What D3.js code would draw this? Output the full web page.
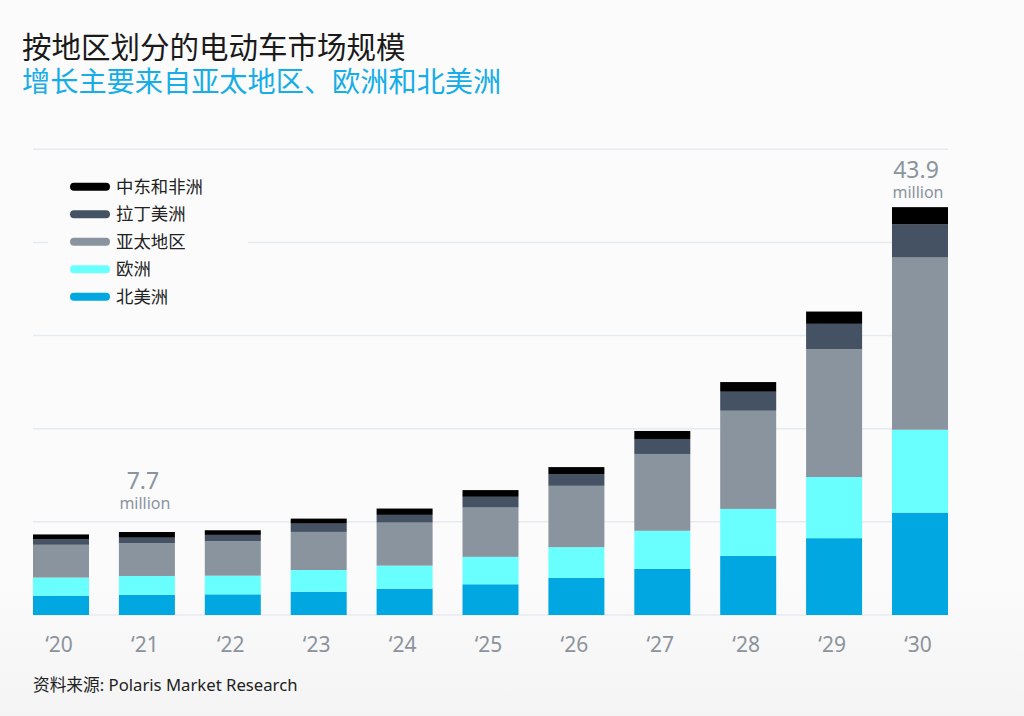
<!DOCTYPE html>
<html>
<head>
<meta charset="utf-8">
<script src="https://cdn.jsdelivr.net/npm/d3@7"></script>
<style>
  html, body { margin: 0; padding: 0; background: #fbfbfc; }
  text { font-family: "Noto Sans", "Noto Sans CJK SC", sans-serif; }
</style>
</head>
<body>
<div id="chart"></div>
<script>
const width = 1024;
const height = 716;

// data (million units)
const years = ["20", "21", "22", "23", "24", "25", "26", "27", "28", "29", "30"];
const northAmerica     = [2.08, 2.18, 2.22, 2.50, 2.83, 3.30, 3.98, 4.95, 6.34, 8.25, 11.00];
const europe           = [1.94, 2.01, 2.00, 2.33, 2.47, 2.94, 3.30, 4.09, 5.05, 6.56, 8.89];
const asiaPacific      = [3.52, 3.51, 3.70, 4.09, 4.62, 5.30, 6.59, 8.25, 10.54, 13.72, 18.49];
const latinAmerica     = [0.61, 0.60, 0.68, 0.89, 0.83, 1.15, 1.26, 1.61, 2.04, 2.73, 3.55];
const middleEastAfrica = [0.50, 0.61, 0.50, 0.54, 0.68, 0.72, 0.75, 0.86, 1.04, 1.32, 1.86];
const seriesNames = ["北美洲", "欧洲", "亚太地区", "拉丁美洲", "中东和非洲"];
const yTicks = [0, 10, 20, 30, 40, 50];
const callouts = [{ year: "21", value: "7.7" }, { year: "30", value: "43.9" }];

const colors = ["#00a7e1", "#6affff", "#8a949e", "#455263", "#000000"];

const table = years.map((y, i) => ({
    year: y,
    "北美洲": northAmerica[i],
    "欧洲": europe[i],
    "亚太地区": asiaPacific[i],
    "拉丁美洲": latinAmerica[i],
    "中东和非洲": middleEastAfrica[i]
}));

const svg = d3.select("#chart").append("svg")
    .attr("width", width)
    .attr("height", height);

// faint grey fade at the bottom
const defs = svg.append("defs");
const grad = defs.append("linearGradient")
    .attr("id", "bgFade").attr("x1", 0).attr("y1", 0).attr("x2", 0).attr("y2", 1);
grad.append("stop").attr("offset", "0%").attr("stop-color", "#fbfbfc");
grad.append("stop").attr("offset", "100%").attr("stop-color", "#f4f4f5");
svg.append("rect").attr("width", width).attr("height", height).attr("fill", "#fbfbfc");
svg.append("rect").attr("y", 575).attr("width", width).attr("height", height - 575)
    .attr("fill", "url(#bgFade)");

// titles
svg.append("text").attr("x", 22).attr("y", 58)
    .attr("font-size", 29.5).attr("fill", "#1a1a1a")
    .style("font-family", "'Noto Sans CJK SC', sans-serif")
    .text("按地区划分的电动车市场规模");
svg.append("text").attr("x", 22).attr("y", 92)
    .attr("font-size", 28.2).attr("fill", "#17ade6")
    .style("font-family", "'Noto Sans CJK SC', sans-serif")
    .text("增长主要来自亚太地区、欧洲和北美洲");

const xScale = d3.scaleBand()
    .domain(years)
    .range([33, 948])
    .paddingInner(0.348)
    .paddingOuter(0);

const yScale = d3.scaleLinear()
    .domain([0, 50])
    .range([615, 149.3]);

// gridlines
svg.append("g").selectAll("line")
    .data(yTicks)
    .enter()
    .append("line")
    .attr("x1", 33)
    .attr("x2", 948)
    .attr("y1", d => yScale(d))
    .attr("y2", d => yScale(d))
    .attr("stroke", "#e6ebf0")
    .attr("stroke-width", 1.5);

// stacked bars
const stack = d3.stack().keys(seriesNames);
const series = stack(table);

const groups = svg.append("g")
    .selectAll("g")
    .data(series)
    .enter()
    .append("g")
    .attr("fill", (d, i) => colors[i]);

groups.selectAll("rect")
    .data(d => d)
    .enter()
    .append("rect")
    .attr("x", d => xScale(d.data.year))
    .attr("y", d => yScale(d[1]))
    .attr("width", xScale.bandwidth())
    .attr("height", d => yScale(d[0]) - yScale(d[1]));

// x axis labels
svg.append("g").selectAll("text")
    .data(years)
    .enter()
    .append("text")
    .attr("x", d => xScale(d) + xScale.bandwidth() / 2 - 2)
    .attr("y", 652)
    .attr("text-anchor", "middle")
    .attr("font-size", 21)
    .attr("fill", "#8c939b")
    .text(d => "\u2018" + d);

// total callouts above two bars
const lift = { "21": 23, "30": 9 };
callouts.forEach(c => {
    const row = table.find(r => r.year === c.year);
    const total = d3.sum(seriesNames, k => row[k]);
    const cx = xScale(c.year) + xScale.bandwidth() / 2 - 4;
    const base = yScale(total) - lift[c.year];
    svg.append("text").attr("x", cx).attr("y", base - 20)
        .attr("text-anchor", "middle").attr("font-size", 23).attr("fill", "#8a949e")
        .text(c.value);
    svg.append("text").attr("x", cx + 2).attr("y", base)
        .attr("text-anchor", "middle").attr("font-size", 16).attr("fill", "#8a949e")
        .text("million");
});

// legend (box hides gridline behind it)
svg.append("rect").attr("x", 48).attr("y", 165).attr("width", 200).attr("height", 145)
    .attr("fill", "#fbfbfc");
const legendOrder = seriesNames.slice().reverse();
const legend = svg.append("g").selectAll("g")
    .data(legendOrder)
    .enter()
    .append("g")
    .attr("transform", (d, i) => `translate(0,${186.7 + i * 27.5})`);
legend.append("line")
    .attr("x1", 74).attr("x2", 106)
    .attr("stroke", d => colors[seriesNames.indexOf(d)])
    .attr("stroke-width", 8)
    .attr("stroke-linecap", "round");
legend.append("text")
    .attr("x", 116)
    .attr("dy", "0.36em")
    .attr("font-size", 17.4)
    .attr("fill", "#222")
    .style("font-family", "'Noto Sans CJK SC', sans-serif")
    .text(d => d);

// source
svg.append("text").attr("x", 33).attr("y", 691)
    .attr("font-size", 16.7).attr("fill", "#222")
    .text("资料来源: Polaris Market Research");
</script>
</body>
</html>
